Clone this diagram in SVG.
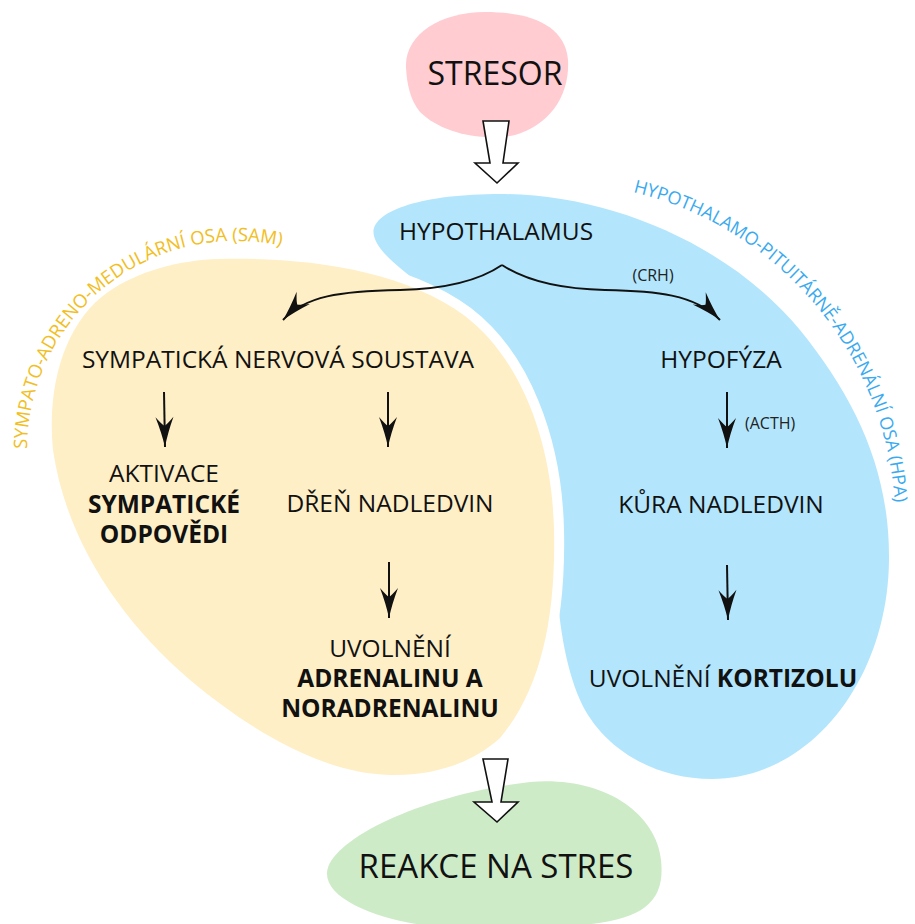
<svg xmlns="http://www.w3.org/2000/svg" width="915" height="924" viewBox="0 0 915 924">
<style>
.lbl{font-family:"Open Sans","Liberation Sans",sans-serif;font-size:24.5px;fill:#111;text-anchor:middle}
.b{font-weight:700}
.small{font-family:"Open Sans","Liberation Sans",sans-serif;font-size:16px;fill:#222}
.axis{font-family:"Open Sans","Liberation Sans",sans-serif;font-size:18.5px}
.conn{fill:none;stroke:#111;stroke-width:2}
.hollow{fill:#fff;stroke:#111;stroke-width:1.6;stroke-linejoin:miter}
</style>
<defs>
<marker id="head" markerUnits="userSpaceOnUse" viewBox="-32 -12 36 24" markerWidth="36" markerHeight="24" refX="0" refY="0" orient="auto">
<path d="M0,0 Q-14,-3 -30,-9 Q-23,-3 -21,0 Q-23,3 -30,9 Q-14,3 0,0 Z" fill="#111"/>
</marker>
<path id="samArc" d="M 27,449 A 209 209 0 0 1 300,251"/>
<path id="hpaArc" d="M 633,192 A 343 343 0 0 1 894,558"/>
</defs>

<g id="hpa-axis">
<path d="M 374,236 C 368,212 420,194 500,194 C 610,194 730,245 800,330 C 855,398 890,470 889,560 C 888,680 810,779 712,779 C 650,779 600,745 580,700 C 565,665 558,620 556,570 L 540,480 L 500,380 L 450,310 L 420,284 C 400,268 378,252 374,236 Z" fill="#B3E6FC"/>
<text class="axis" fill="#3AAAF0" style="font-size:18px"><textPath href="#hpaArc">HYPOTHALAMO-PITUITÁRNĚ-ADRENÁLNÍ OSA (HPA)</textPath></text>
</g>

<g id="sam-axis">
<path d="M 219,259 C 300,257 400,268 465,316 C 520,358 552,440 554,530 C 556,620 540,690 500,738 C 470,765 430,776 390,775 C 320,773 250,730 190,680 C 120,620 66,540 53,450 C 46,380 68,320 108,292 C 138,271 180,260 219,259 Z" fill="#FFEFC6" stroke="#fff" stroke-width="20" paint-order="stroke"/>
<text class="axis" fill="#F2BE22"><textPath href="#samArc">SYMPATO-ADRENO-MEDULÁRNÍ OSA (SAM)</textPath></text>
</g>

<g id="stresor">
<path d="M 406,68 C 404,35 440,12 485,12 C 530,12 565,25 568,60 C 570,95 550,125 515,135 C 480,142 440,132 420,112 C 410,100 407,84 406,68 Z" fill="#FFCCD1"/>
<text class="lbl" x="495" y="85" style="font-size:32px">STRESOR</text>
</g>

<g id="reakce">
<path d="M 327,872 C 330,840 420,795 530,782 C 600,776 655,810 661,860 C 666,905 640,924 560,926 L 430,926 C 380,920 325,900 327,872 Z" fill="#CEEBC8"/>
<text class="lbl" x="496" y="878" style="font-size:33px">REAKCE NA STRES</text>
</g>

<g id="hypothalamus"><text class="lbl" x="496" y="240">HYPOTHALAMUS</text></g>
<g id="sympaticka"><text class="lbl" x="278" y="368">SYMPATICKÁ NERVOVÁ SOUSTAVA</text></g>
<g id="hypofyza"><text class="lbl" x="721" y="368">HYPOFÝZA</text></g>
<g id="aktivace"><text class="lbl" x="164" y="482">AKTIVACE</text><text class="lbl b" x="164" y="513">SYMPATICKÉ</text><text class="lbl b" x="164" y="543">ODPOVĚDI</text></g>
<g id="dren"><text class="lbl" x="390" y="512">DŘEŇ NADLEDVIN</text></g>
<g id="kura"><text class="lbl" x="721" y="513">KŮRA NADLEDVIN</text></g>
<g id="adrenalin"><text class="lbl" x="390" y="657">UVOLNĚNÍ</text><text class="lbl b" x="390" y="687">ADRENALINU A</text><text class="lbl b" x="390" y="717">NORADRENALINU</text></g>
<g id="kortizol"><text class="lbl" x="723" y="687">UVOLNĚNÍ <tspan class="b">KORTIZOLU</tspan></text></g>

<g id="connectors">
<path class="hollow" d="M 483,121 L 509,121 L 503,163 L 518,163 L 497,183 L 475,163 L 490,163 Z"/>
<path class="hollow" d="M 483,759 L 508,759 L 501,802 L 518,802 L 497,822 L 474,802 L 492,802 Z"/>
<path class="conn" d="M 502,265 C 480,280 445,289 400,290 C 340,291 305,296 283,320" marker-end="url(#head)"/>
<path class="conn" d="M 502,265 C 525,280 560,289 605,290 C 655,291 695,294 720,320" marker-end="url(#head)"/>
<path class="conn" d="M 164,392 L 165,447" marker-end="url(#head)"/>
<path class="conn" d="M 388,392 L 388,447" marker-end="url(#head)"/>
<path class="conn" d="M 389,562 L 389,618" marker-end="url(#head)"/>
<path class="conn" d="M 727,392 L 727,448" marker-end="url(#head)"/>
<path class="conn" d="M 727,565 L 728,620" marker-end="url(#head)"/>
<text class="small" x="653" y="281" text-anchor="middle">(CRH)</text>
<text class="small" x="745" y="429">(ACTH)</text>
</g>
</svg>
